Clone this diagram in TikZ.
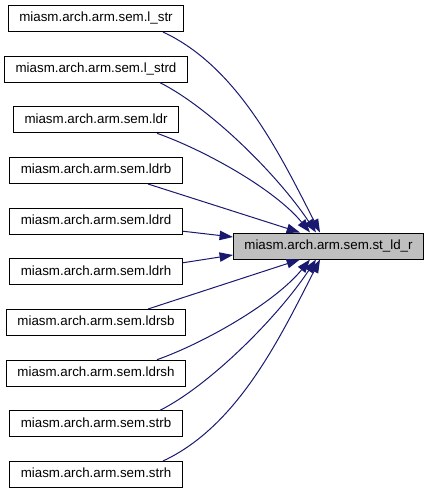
\documentclass[tikz,border=0pt]{standalone}
\usepackage{fontspec}
\setmainfont{Liberation Sans}
\usetikzlibrary{arrows.meta,calc}
\definecolor{edgeblue}{HTML}{191970}
\definecolor{tgtfill}{HTML}{BFBFBF}
\begin{document}
\begin{tikzpicture}[x=0.75pt,y=-0.75pt,
  box/.style={draw=black, line width=0.75pt, inner xsep=8.25pt, inner ysep=0pt,
    minimum height=19.5pt, text height=7.3pt, text depth=2.2pt,
    font=\fontsize{10pt}{12pt}\selectfont},
  tgtbox/.style={box, fill=tgtfill},
  edge/.style={draw=edgeblue, line width=0.75pt,
    -{Triangle[length=10pt,width=7pt]}}]
\useasboundingbox (0,0) rectangle (428,493);
\node[box] (lstr)  at (96,18.5)  {miasm.arch.arm.sem.l\_str};
\node[box] (lstrd) at (96,69.2)  {miasm.arch.arm.sem.l\_strd};
\node[box] (ldr)   at (96,119.8) {miasm.arch.arm.sem.ldr};
\node[box] (ldrb)  at (96,170.5) {miasm.arch.arm.sem.ldrb};
\node[box] (ldrd)  at (96,221.2) {miasm.arch.arm.sem.ldrd};
\node[box] (ldrh)  at (96,271.8) {miasm.arch.arm.sem.ldrh};
\node[box] (ldrsb) at (96,322.5) {miasm.arch.arm.sem.ldrsb};
\node[box] (ldrsh) at (96,373.2) {miasm.arch.arm.sem.ldrsh};
\node[box] (strb)  at (96,423.8) {miasm.arch.arm.sem.strb};
\node[box] (strh)  at (96,474.5) {miasm.arch.arm.sem.strh};
\node[tgtbox] (tgt) at (328.5,246) {miasm.arch.arm.sem.st\_ld\_r};
% upper edges
\draw[edge] ($(lstr.south)+(67,0)$) .. controls +(75,35) and +(-40,-78) .. ($(tgt.north)+(-8.5,0)$);
\draw[edge] ($(lstrd.south)+(64,0)$) .. controls +(48,24) and +(-40,-60) .. ($(tgt.north)+(-12.5,0)$);
\draw[edge] ($(ldr.south)+(61,0)$) .. controls +(48,17) and +(-35,-43) .. ($(tgt.north)+(-18.5,0)$);
\draw[edge] ($(ldrb.south)+(52,0)$) -- ($(tgt.north)+(-28.5,0)$);
\draw[edge] ($(ldrd.east)+(0,10)$) -- ($(tgt.west)+(0,-9)$);
% lower edges
\draw[edge] ($(ldrh.east)+(0,-9)$) -- ($(tgt.west)+(0,9)$);
\draw[edge] ($(ldrsb.north)+(52,0)$) -- ($(tgt.south)+(-28.5,0)$);
\draw[edge] ($(ldrsh.north)+(61,0)$) .. controls +(48,-17) and +(-35,43) .. ($(tgt.south)+(-18.5,0)$);
\draw[edge] ($(strb.north)+(64,0)$) .. controls +(48,-24) and +(-40,60) .. ($(tgt.south)+(-12.5,0)$);
\draw[edge] ($(strh.north)+(67,0)$) .. controls +(75,-35) and +(-40,78) .. ($(tgt.south)+(-8.5,0)$);
\end{tikzpicture}
\end{document}
